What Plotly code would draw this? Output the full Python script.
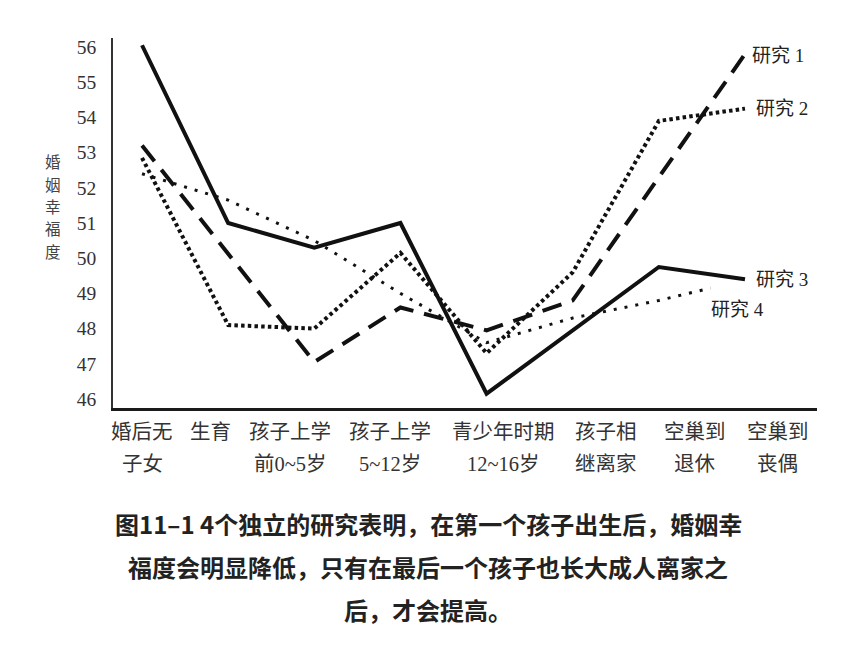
import plotly.graph_objects as go

# ---- data ----
cat_line1 = ["婚后无", "生育", "孩子上学", "孩子上学", "青少年时期", "孩子相", "空巢到", "空巢到"]
cat_line2 = ["子女", "", "前0~5岁", "5~12岁", "12~16岁", "继离家", "退休", "丧偶"]
cat_label_x = [0.0, 0.80, 1.72, 2.88, 4.20, 5.39, 6.42, 7.38]

y_ticks = [46, 47, 48, 49, 50, 51, 52, 53, 54, 55, 56]

study1_x = [0, 2, 3, 4, 5, 7]
study1_y = [53.2, 47.05, 48.6, 47.95, 48.8, 55.8]

study2_x = [0, 1, 2, 3, 4, 5, 6, 7]
study2_y = [52.85, 48.1, 48.0, 50.15, 47.3, 49.6, 53.9, 54.25]

study3_x = [0, 1, 2, 3, 4, 6, 7]
study3_y = [56.05, 51.0, 50.3, 51.0, 46.15, 49.75, 49.4]

study4_x = [0, 1, 2, 3, 4, 5, 6, 6.6]
study4_y = [52.4, 51.65, 50.5, 49.0, 47.6, 48.3, 48.8, 49.15]

names = ["研究 1", "研究 2", "研究 3", "研究 4"]

title_lines = [
    "图11–1 4个独立的研究表明，在第一个孩子出生后，婚姻幸",
    "福度会明显降低，只有在最后一个孩子也长大成人离家之",
    "后，才会提高。",
]
y_title_chars = ["婚", "姻", "幸", "福", "度"]

# ---- figure ----
INK = "#111111"
SERIF = "Liberation Serif, Noto Sans CJK SC, serif"
CJK = "Noto Sans CJK SC, sans-serif"

PLOT_H = 370.0

fig = go.Figure()
fig.add_trace(go.Scatter(x=study1_x, y=study1_y, mode="lines", name=names[0],
                         line=dict(color=INK, width=4, dash="20px,11px")))
fig.add_trace(go.Scatter(x=study2_x, y=study2_y, mode="lines", name=names[1],
                         line=dict(color=INK, width=4, dash="3.5px,3.2px")))
fig.add_trace(go.Scatter(x=study3_x, y=study3_y, mode="lines", name=names[2],
                         line=dict(color=INK, width=4)))
fig.add_trace(go.Scatter(x=study4_x, y=study4_y, mode="lines", name=names[3],
                         line=dict(color=INK, width=3, dash="3px,8px")))

annotations = []
# series end labels
ends = [
    (study1_x[-1] + 0.06, study1_y[-1] - 0.03),
    (study2_x[-1] + 0.11, study2_y[-1]),
    (study3_x[-1] + 0.11, study3_y[-1]),
    (study4_x[-1] - 0.02, study4_y[-1] - 0.62),
]
for nm, (ex, ey) in zip(names, ends):
    annotations.append(dict(x=ex, y=ey, xref="x", yref="y", text=nm, showarrow=False,
                            xanchor="left", yanchor="middle",
                            font=dict(family=SERIF, size=19, color="#222")))

# category labels (two rows)
for cx, t1, t2 in zip(cat_label_x, cat_line1, cat_line2):
    annotations.append(dict(x=cx, y=-24 / PLOT_H, xref="x", yref="paper", text=t1, showarrow=False,
                            xanchor="center", yanchor="middle",
                            font=dict(family=SERIF, size=20.5, color="#333")))
    if t2:
        annotations.append(dict(x=cx, y=-56 / PLOT_H, xref="x", yref="paper", text=t2, showarrow=False,
                                xanchor="center", yanchor="middle",
                                font=dict(family=SERIF, size=20.5, color="#333")))

# y axis title (stacked characters)
for i, ch in enumerate(y_title_chars):
    py = 161 + 22.5 * i  # pixel centre of each character
    annotations.append(dict(x=-60 / 704.0, y=(408 - py) / PLOT_H, xref="paper", yref="paper",
                            text=ch, showarrow=False, xanchor="center", yanchor="middle",
                            borderpad=0,
                            font=dict(family=CJK, size=15.5, color="#444")))

# caption
for line, py in zip(title_lines, [523, 566, 609]):
    annotations.append(dict(x=0.448, y=(408 - py) / PLOT_H, xref="paper", yref="paper",
                            text="<b>" + line + "</b>",
                            showarrow=False, xanchor="center", yanchor="middle",
                            font=dict(family=CJK, size=24, color="#222")))

# the page body adds an 8px offset, so margins are shifted by 8px
fig.update_layout(
    width=857, height=650,
    margin=dict(l=105, r=48, t=30, b=250),
    paper_bgcolor="white", plot_bgcolor="white",
    showlegend=False,
    annotations=annotations,
    xaxis=dict(range=[-0.337, 7.836], showgrid=False, zeroline=False,
               showticklabels=False, ticks="", showline=True,
               linecolor="#1a1a1a", linewidth=2.5),
    yaxis=dict(range=[45.744, 56.256], showgrid=False, zeroline=False,
               tickvals=y_ticks, ticktext=[str(v) for v in y_ticks], ticks="",
               ticklabelstandoff=11,
               tickfont=dict(family=SERIF, size=19.5, color="#333"),
               showline=True, linecolor="#333", linewidth=1.5),
)

fig.write_html("out.html")
